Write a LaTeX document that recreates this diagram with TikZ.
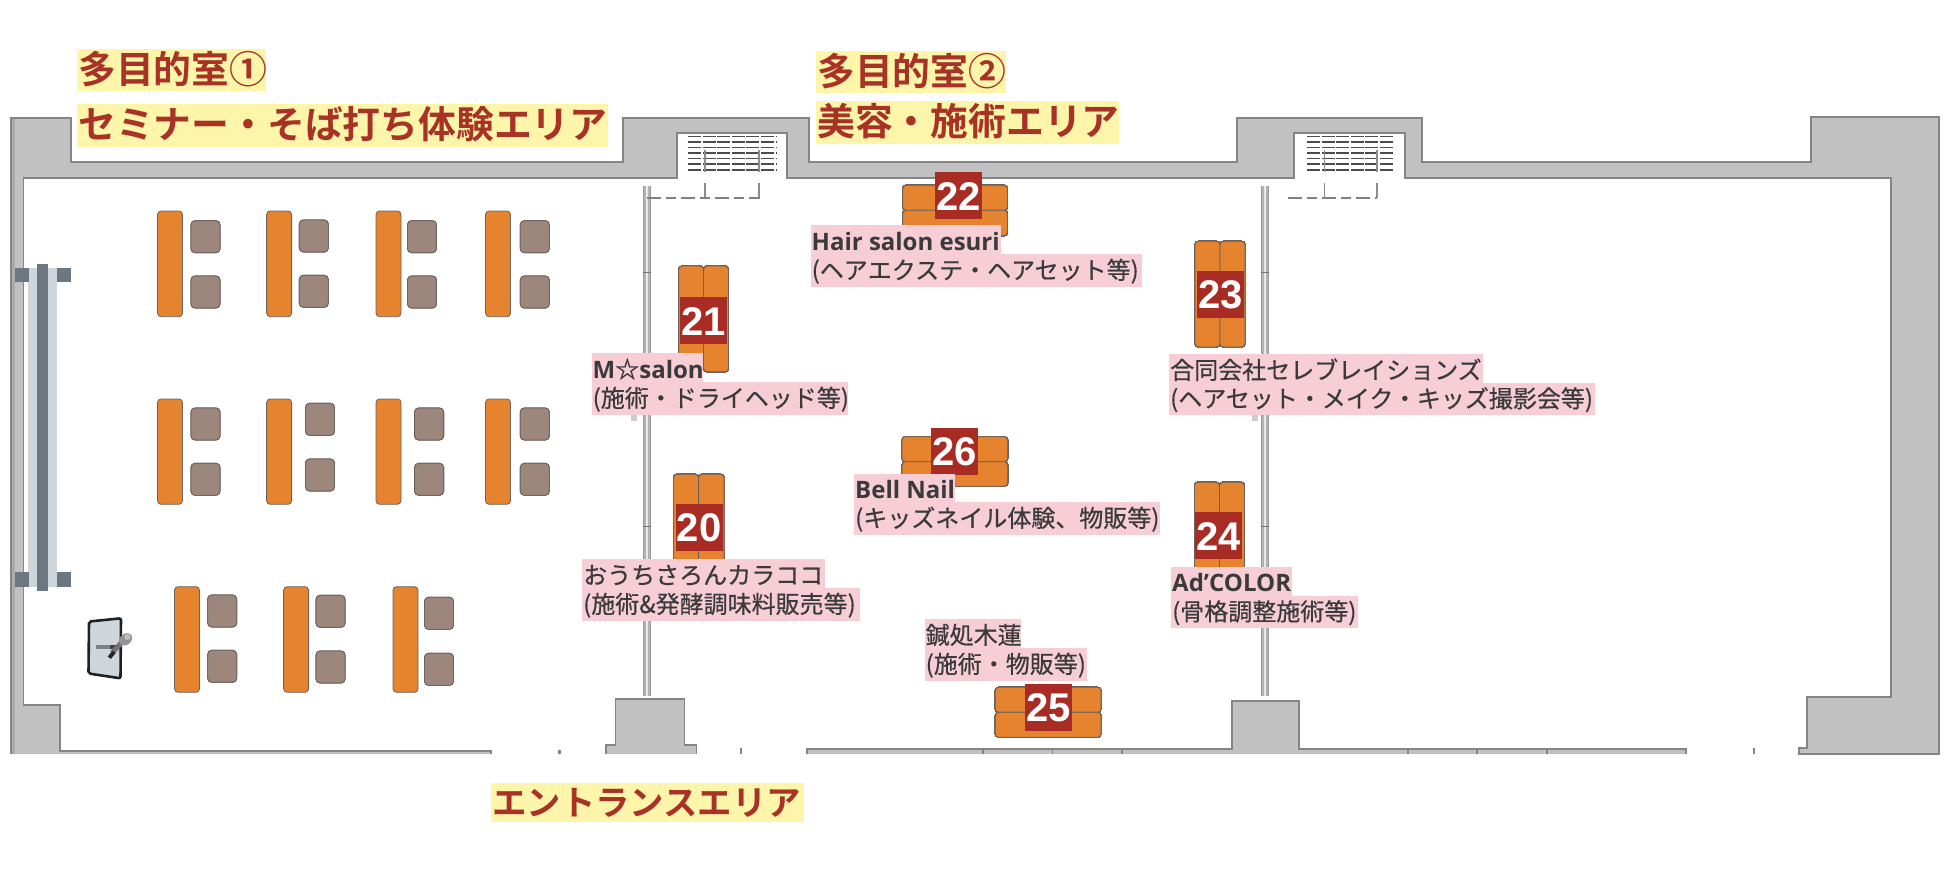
\documentclass[tikz,border=0pt]{standalone}
\usepackage{fontspec}
\newfontfamily\ttlfont[BoldFont={Noto Sans CJK JP Bold}]{Noto Sans CJK JP}
\newfontfamily\cjkfont[FakeBold=0.5]{Noto Sans CJK JP}
\newfontfamily\latfont{Open Sans}
\newfontfamily\numfont{Liberation Sans}
\definecolor{wallc}{HTML}{C1C1C2}
\definecolor{walle}{HTML}{858585}
\definecolor{orangec}{HTML}{E5832F}
\definecolor{chairc}{HTML}{9D877C}
\definecolor{edgec}{HTML}{6B625C}
\definecolor{badgec}{HTML}{A82C24}
\definecolor{titlec}{HTML}{A93226}
\definecolor{yellowc}{HTML}{FDF5A9}
\definecolor{pinkc}{HTML}{F7CED5}
\definecolor{textc}{HTML}{3A3A3C}
\definecolor{raild}{HTML}{6C7781}
\definecolor{raill}{HTML}{CED6DC}
\definecolor{partc}{HTML}{B4B4B4}
\tikzset{
  desk/.style={fill=orangec,draw=edgec,line width=.8pt,rounded corners=3.5pt},
  chairbox/.style={fill=chairc,draw=edgec,line width=.8pt,rounded corners=4pt},
  wallline/.style={draw=walle,line width=1.4pt,line join=miter},
  titletext/.style={anchor=base west,inner sep=0pt,text=titlec,font=\ttlfont\bfseries\fontsize{37.8}{40}\selectfont},
  labeltext/.style={anchor=base west,inner sep=0pt,text=textc,font=\cjkfont\fontsize{24}{26}\selectfont},
  badgetext/.style={anchor=center,inner sep=0pt,text=white,font=\numfont\bfseries\fontsize{40}{42}\selectfont},
  hatchline/.style={draw=black!70,line width=1.3pt,dash pattern=on 13pt off 1.6pt},
  dashline/.style={draw=black!50,line width=1.2pt,dash pattern=on 14pt off 5pt on 10pt off 5pt},
}
\newcommand{\desk}[4]{\path[desk] (#1,#2) rectangle (#3,#4);}
\newcommand{\chairat}[2]{\path[chairbox] (#1,#2) rectangle ++(29,32);}
\newcommand{\badge}[5]{\fill[badgec] (#1,#2) rectangle (#3,#4);
  \node[badgetext] (b#5) at ({(#1+#3)/2},{(#2+#4)/2+.5}) {#5};}
\newcommand{\ytitle}[6]{\fill[yellowc] (#1,#2) rectangle (#3,#4);
  \node[titletext] (#5) at (#1+1,#2+34.5) {#6};}
\newcommand{\ptext}[4]{\node[labeltext] (#1) at (#2,#3) {#4};}
\newcommand{\wallpath}{(11,754) -- (11,118) -- (71,118) -- (71,162) -- (623,162) -- (623,118) -- (809,118) -- (809,162) -- (1237,162) -- (1237,118) -- (1422,118) -- (1422,162) -- (1811,162) -- (1811,117) -- (1939,117) -- (1939,754) -- (1799,754) -- (1799,748) -- (1807,748) -- (1807,697) -- (1891,697) -- (1891,178) -- (1405,178) -- (1405,133) -- (1294,133) -- (1294,178) -- (787,178) -- (787,133) -- (677,133) -- (677,178) -- (23.5,178) -- (23.5,705) -- (60,705) -- (60,751) -- (491,751) -- (491,754)}
\newcommand{\pillarA}{(606,754) -- (606,745) -- (615.7,745) -- (615.7,699) -- (684.3,699) -- (684.3,745) -- (696.7,745) -- (696.7,754)}
\newcommand{\pillarB}{(807,754) -- (807,749) -- (1232,749) -- (1232,701) -- (1299,701) -- (1299,749) -- (1686,749) -- (1686,754)}
\begin{document}
\begin{tikzpicture}[x=1pt,y=-1pt]
\useasboundingbox (0,0) rectangle (1950,880);
\fill[white] (0,0) rectangle (1950,880);
% walls
\fill[wallc] \wallpath -- cycle;
\fill[wallc] \pillarA -- cycle;
\fill[wallc] \pillarB -- cycle;
\fill[black!33] (11,118) rectangle (15,754);
\draw[wallline] \wallpath;
\draw[wallline] \pillarA;
\draw[wallline] \pillarB;
\foreach \x in {983,1052.6,1122,1408,1477,1547}
  \draw[walle,line width=1.2pt] (\x,749) -- (\x,754);
\fill[walle] (557.5,750) rectangle (561,754);
\fill[walle] (740,748) rectangle (742,754);
\fill[walle] (1752.5,748) rectangle (1754.5,754);
% partitions
\foreach \x/\b in {647/634,1265/1255}{
  \fill[partc] (\x-3.5,186) rectangle (\x+3.5,696);
  \fill[white!70!partc] (\x-1,186) rectangle (\x+1,696);
  \draw[black!40,line width=.8pt] (\x-3.5,186) -- (\x-3.5,696) (\x+3.5,186) -- (\x+3.5,696);
  \draw[black!55,line width=1pt] (\x-4,272) -- (\x+4,272) (\x-4,526) -- (\x+4,526);
  \fill[black!20] (\b-3,415) rectangle (\b+3,421);
}
% vents
\foreach \a/\c/\d/\e in {688/776/705/759,1307/1394/1324.5/1377}{
  \foreach \y in {136.5,142,147.5,153,158.5,164,170}
    \draw[hatchline] (\a,\y) -- (\c,\y);
  \draw[black!45,line width=1.2pt] (\d,150) -- (\d,172) (\e,150) -- (\e,172);
  \draw[black!45,line width=1.2pt] (\d,183) -- (\d,198) (\e,183) -- (\e,198);
}
\draw[dashline] (647,198) -- (760,198);
\draw[dashline] (1288,198) -- (1377,198);
% screen rail
\fill[raill] (28,268) rectangle (57,587);
\fill[raild] (14.5,268) rectangle (29,282);
\fill[raild] (57,268) rectangle (70.5,282);
\fill[raild] (14.5,572) rectangle (29,587);
\fill[raild] (57,572) rectangle (70.5,587);
\fill[raild] (36.5,264) rectangle (48,591);
% lectern
\draw[fill=raill,draw=black!85!raill,line width=2.6pt,rounded corners=2pt] (89,621.5) -- (121,618.3) -- (120.5,678.3) -- (88.5,673.5) -- cycle;
\draw[black!50,line width=4pt] (95.7,647.3) -- (120,647.3);
\draw[black!75,line width=4pt] (110,647.3) -- (120,647.3);
\draw[black!55,line width=5pt] (112,653) -- (122,642);
\draw[black!85,line width=4pt] (109.3,657.7) -- (114,652);
\fill[black!42,rotate around={40:(125.7,639.3)}] (125.7,639.3) ellipse (7pt and 5.5pt);
\fill[black!25] (127.5,637) circle (3pt);
% seminar desks and chairs
\foreach \x in {157.5,266.6,376,485.5}{
  \desk{\x}{211}{\x+25}{316.7}
  \desk{\x}{399}{\x+25}{504.3}
}
\foreach \x in {174.5,283.6,393}
  \desk{\x}{586.7}{\x+25}{692.3}
\foreach \x/\y in {191/220.7,191/276,299.3/220,299.3/275.3,407.5/220.7,407.5/276,520.3/220.7,520.3/276,
  191/408,191/463.3,305.5/403.3,305.5/459,414.6/408,414.6/463.3,520.3/408,520.3/463.3,
  207.7/595,207.7/650.3,316/595.3,316/651,424.5/597.3,424.5/653.3}
  \chairat{\x}{\y}
% booth desks
\desk{902.6}{185.3}{1007.5}{210.3}\desk{902.6}{210.3}{1007.5}{235.7}
\desk{678.8}{266}{703.5}{371.7}\desk{703.5}{266}{728.5}{371.7}
\desk{1195}{241.3}{1220}{347}\desk{1220}{241.3}{1245}{347}
\desk{1194.4}{482.3}{1219.4}{588}\desk{1219.4}{482.3}{1244.4}{588}
\desk{902}{436.7}{1007.7}{461.7}\desk{902}{461.7}{1007.7}{486.3}
\desk{673.5}{474.3}{698.6}{580}\desk{698.6}{474.3}{724}{580}
\desk{995.3}{687.3}{1101}{712.3}\desk{995.3}{712.3}{1101}{737.3}
% badges
\badge{935}{172.3}{982}{219.3}{22}
\badge{680}{297.3}{727}{344.3}{21}
\badge{1197}{270.7}{1244}{317.7}{23}
\badge{1195.4}{512.3}{1242.4}{559.3}{24}
\badge{931}{428.3}{978}{474.7}{26}
\badge{675.6}{504}{722.5}{550.7}{20}
\badge{1025}{684.3}{1072}{731}{25}
% pink label bands
\fill[pinkc] (810.6,225.3) rectangle (1000.5,254);
\fill[pinkc] (810.6,254) rectangle (1141.5,286.7);
\fill[pinkc] (591.6,353.3) rectangle (703,382.3);
\fill[pinkc] (591.6,382.3) rectangle (847.5,414.7);
\fill[pinkc] (1169.4,354) rectangle (1483,383);
\fill[pinkc] (1169.4,383) rectangle (1595.4,414.7);
\fill[pinkc] (1171.4,567) rectangle (1292.3,595.7);
\fill[pinkc] (1171.4,595.7) rectangle (1358,628);
\fill[pinkc] (854.3,473.7) rectangle (955,502.3);
\fill[pinkc] (854.3,502.3) rectangle (1160,535);
\fill[pinkc] (582.3,559.3) rectangle (824.5,588.3);
\fill[pinkc] (582.3,588.3) rectangle (859.7,620.7);
\fill[pinkc] (924.8,619.3) rectangle (1021.4,648.3);
\fill[pinkc] (924.8,648.3) rectangle (1086.5,680.7);
% label text
\ptext{l22a}{811.5}{250}{\latfont\bfseries Hair salon esuri}
\ptext{l22b}{811.5}{279}{(ヘアエクステ・ヘアセット等)}
\ptext{l21a}{592.5}{378}{\latfont\bfseries M{\cjkfont ☆}salon}
\ptext{l21b}{592.5}{407}{(施術・ドライヘッド等)}
\ptext{l23a}{1170}{379}{合同会社セレブレイションズ}
\ptext{l23b}{1170}{407.5}{(ヘアセット・メイク・キッズ撮影会等)}
\ptext{l24a}{1172}{591.5}{\latfont\bfseries Ad’COLOR}
\ptext{l24b}{1172}{620.5}{(骨格調整施術等)}
\ptext{l26a}{855}{498}{\latfont\bfseries Bell Nail}
\ptext{l26b}{855}{527}{(キッズネイル体験、物販等)}
\ptext{l20a}{583}{584}{おうちさろんカラココ}
\ptext{l20b}{583}{613}{(施術\&発酵調味料販売等)}
\ptext{l25a}{925.5}{644}{鍼処木蓮}
\ptext{l25b}{925.5}{673}{(施術・物販等)}
% yellow titles
\ytitle{77}{49}{266}{90.7}{t1}{多目的室①}
\ytitle{77}{104}{607.8}{146.7}{t2}{セミナー・そば打ち体験エリア}
\ytitle{816}{51}{1005.5}{93}{t3}{多目的室②}
\ytitle{816}{101}{1119}{143.7}{t4}{美容・施術エリア}
\fill[yellowc] (491,783.3) rectangle (803.7,821.7);
\node[titletext,font=\ttlfont\bfseries\fontsize{34.4}{36}\selectfont] (t5) at (492,815) {エントランスエリア};
\end{tikzpicture}
\end{document}
